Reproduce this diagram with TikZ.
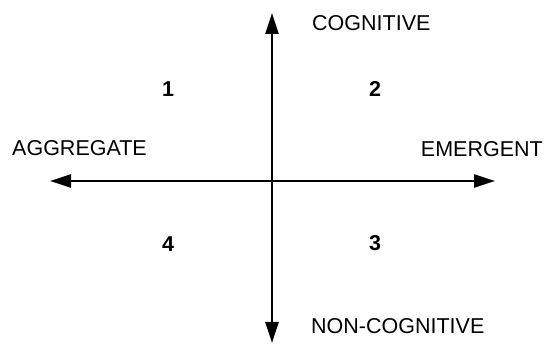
\documentclass[tikz,border=0pt]{standalone}
\usepackage{fontspec}
\setmainfont{Liberation Sans}
\usetikzlibrary{arrows.meta}
\begin{document}
\begin{tikzpicture}[x=1pt,y=-1pt,
  axis/.style={line width=2.4pt,-{Triangle[length=21pt,width=13pt]}},
  lbl/.style={font=\fontsize{21.5}{24}\selectfont,inner sep=0pt},
  num/.style={font=\fontsize{21.5}{24}\selectfont\bfseries,inner sep=0pt}]
\useasboundingbox (0,0) rectangle (544,344);
\coordinate (c) at (272,181);
\coordinate (top) at (272,13);
\coordinate (bot) at (272,343);
\coordinate (left) at (50,181);
\coordinate (right) at (495,181);
\draw[axis] (c) -- (top);
\draw[axis] (c) -- (bot);
\draw[axis] (c) -- (left);
\draw[axis] (c) -- (right);
\node[lbl,anchor=west] (cog) at (312,23) {COGNITIVE};
\node[lbl,anchor=west] (agg) at (12,148) {AGGREGATE};
\node[lbl,anchor=east] (emg) at (543,149) {EMERGENT};
\node[lbl,anchor=west] (ncog) at (311,326) {NON-COGNITIVE};
\node[num] (n1) at (168,89) {1};
\node[num] (n2) at (375,89) {2};
\node[num] (n3) at (375,243) {3};
\node[num] (n4) at (168,244) {4};
\end{tikzpicture}
\end{document}
